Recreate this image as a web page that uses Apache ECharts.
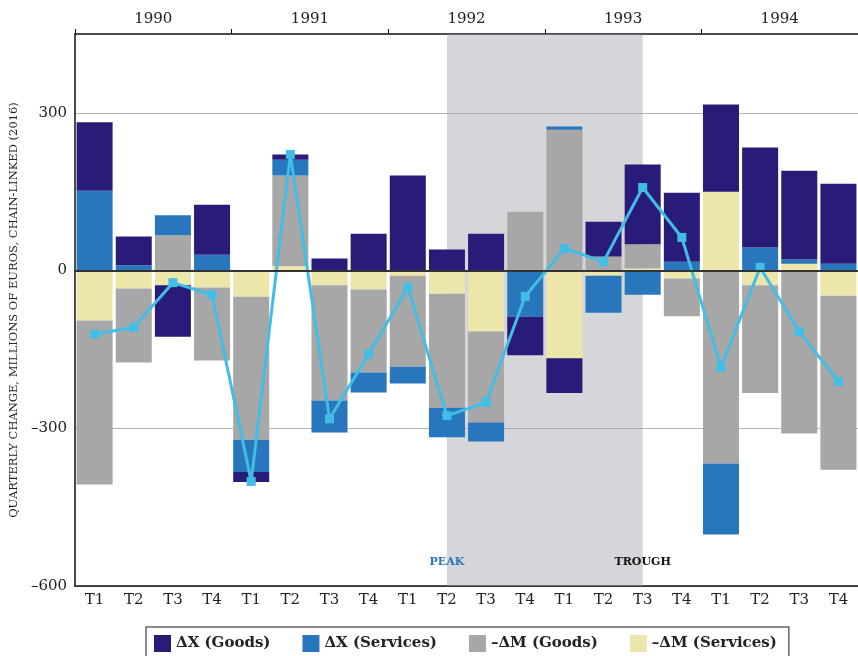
<!DOCTYPE html>
<html>
<head>
<meta charset="utf-8">
<script src="https://cdn.jsdelivr.net/npm/echarts@6/dist/echarts.min.js"></script>
<style>
  html, body { margin: 0; padding: 0; background: #fff; }
  #chart { width: 858px; height: 656px; }
</style>
</head>
<body>
<div id="chart"></div>
<script>
// Trimestres y años
const quarters = ['T1', 'T2', 'T3', 'T4', 'T1', 'T2', 'T3', 'T4', 'T1', 'T2',
                  'T3', 'T4', 'T1', 'T2', 'T3', 'T4', 'T1', 'T2', 'T3', 'T4'];
const years = ['1990', '1991', '1992', '1993', '1994'];

// Contribuciones (millones de euros)
const exportsGoods    = [130, 55, -98, 95, -19, 10, 23, 70, 181, 40, 70, -73, -66, 66, 152, 131, 166, 190, 169, 152];
const exportsServices = [152, 10, 38, 30, -61, 30, -61, -38, -32, -56, -36, -88, 6, -70, -46, 17, -135, 44, 8, 13];
const importsGoods    = [-312, -141, 67, -139, -272, 173, -219, -158, -173, -217, -173, 112, 268, 27, 46, -72, -367, -205, -310, -331];
const importsServices = [-95, -34, -28, -32, -50, 8, -28, -36, -10, -44, -116, 0, -167, -10, 4, -15, 150, -28, 13, -48];
const netBalance      = [-121, -108, -23, -46, -401, 221, -282, -159, -32, -276, -251, -49, 42, 17, 158, 63, -184, 6, -116, -211];

const peakIndex = 9;
const troughIndex = 14;

const serif = 'DejaVu Serif';

const chart = echarts.init(document.getElementById('chart'));

function barSeries(name, data, color) {
    return {
        name: name,
        type: 'bar',
        stack: 'total',
        data: data,
        barCategoryGap: '8%',
        itemStyle: { color: color },
        z: 2
    };
}

const option = {
    animation: false,
    grid: { left: 74, right: 0, top: 34, bottom: 70 },
    legend: {
        data: ['ΔX (Goods)', 'ΔX (Services)', '–ΔM (Goods)', '–ΔM (Services)'],
        left: 146,
        top: 627,
        itemWidth: 17,
        itemHeight: 17,
        itemGap: 32,
        icon: 'rect',
        padding: [8, 12, 8, 8],
        borderColor: '#666',
        borderWidth: 1.5,
        textStyle: { fontFamily: serif, fontWeight: 'bold', fontSize: 15, color: '#222' }
    },
    xAxis: [
        {
            type: 'category',
            data: quarters,
            position: 'bottom',
            axisLine: { onZero: false, lineStyle: { color: '#111', width: 1.5 } },
            axisTick: { length: 6, lineStyle: { color: '#111' } },
            axisLabel: { fontFamily: serif, fontSize: 15, color: '#222', margin: 7 }
        },
        {
            type: 'category',
            data: years,
            position: 'top',
            axisLine: { show: true, onZero: false, lineStyle: { color: '#111', width: 1.5 } },
            axisTick: { show: true, length: 5, lineStyle: { color: '#111' } },
            axisLabel: { fontFamily: serif, fontSize: 15, color: '#222', margin: 7 }
        }
    ],
    yAxis: {
        type: 'value',
        min: -600,
        max: 450,
        interval: 300,
        name: 'QUARTERLY CHANGE, MILLIONS OF EUROS, CHAIN-LINKED (2016)',
        nameLocation: 'middle',
        nameGap: 54,
        nameTextStyle: { fontFamily: serif, fontSize: 11.5, color: '#222' },
        axisLine: { show: true, lineStyle: { color: '#111', width: 1.5 } },
        axisTick: { show: false },
        axisLabel: {
            fontFamily: serif, fontSize: 15, color: '#222', margin: 8,
            showMaxLabel: false,
            formatter: (v) => String(v).replace('-', '–')
        },
        splitLine: { showMaxLine: false, lineStyle: { color: '#b5b5b5', width: 1.2 } }
    },
    series: [
        {
            // Zona sombreada de recesión y etiquetas
            name: 'recession',
            type: 'line',
            data: quarters.map(() => null),
            silent: true,
            z: 1,
            markArea: {
                silent: true,
                itemStyle: { color: 'rgba(150,153,160,0.4)' },
                data: [[{ xAxis: peakIndex }, { xAxis: troughIndex }]]
            },
            markPoint: {
                symbol: 'rect',
                symbolSize: 0,
                silent: true,
                label: {
                    show: true,
                    position: 'inside',
                    fontFamily: serif,
                    fontWeight: 'bold',
                    fontSize: 11
                },
                data: [
                    { coord: [peakIndex, -555], label: { formatter: 'PEAK', color: '#2876bc' } },
                    { coord: [troughIndex, -555], label: { formatter: 'TROUGH', color: '#111' } }
                ]
            }
        },
        barSeries('–ΔM (Services)', importsServices, '#ece6ab'),
        barSeries('–ΔM (Goods)', importsGoods, '#a7a7a7'),
        barSeries('ΔX (Services)', exportsServices, '#2876bc'),
        barSeries('ΔX (Goods)', exportsGoods, '#291c78'),
        {
            name: 'Net',
            type: 'line',
            data: netBalance,
            symbol: 'rect',
            symbolSize: 9,
            z: 4,
            lineStyle: { color: '#41bde6', width: 3 },
            itemStyle: { color: '#41bde6' },
            markLine: {
                silent: true,
                symbol: 'none',
                label: { show: false },
                lineStyle: { color: '#333', width: 1.8, type: 'solid' },
                data: [{ yAxis: 0 }]
            }
        }
    ]
};

chart.setOption(option);
</script>
</body>
</html>
